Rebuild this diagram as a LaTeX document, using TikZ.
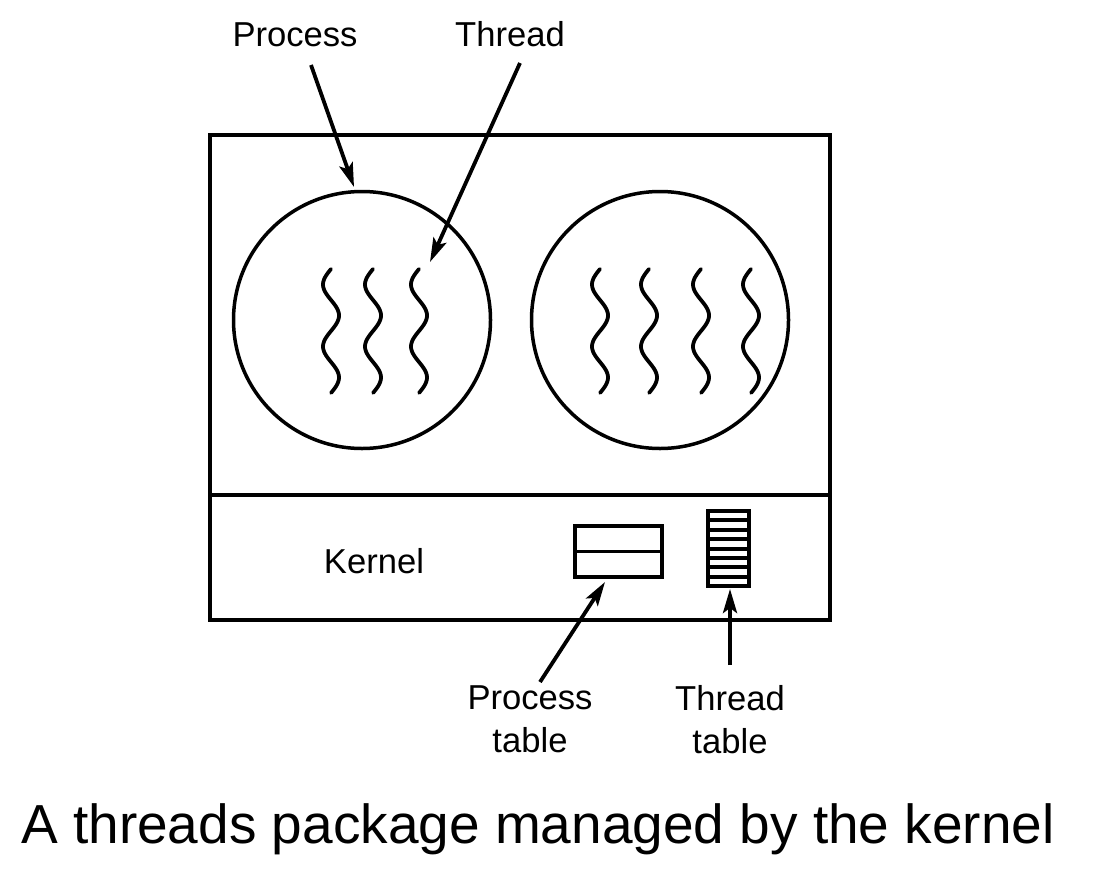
\documentclass[tikz,border=0pt]{standalone}
\usepackage{fontspec}
\setmainfont{Liberation Sans}
\usetikzlibrary{arrows.meta}
\begin{document}
\begin{tikzpicture}[x=1pt,y=-1pt,
  line width=3.5pt,
  lbl/.style={font=\fontsize{34.6}{43}\selectfont, inner sep=0pt, align=center},
  arr/.style={line width=3.8pt, -{Stealth[length=24pt,width=14pt,inset=5pt]}},
  wave/.style={line width=3.8pt, line cap=round},
  box/.style={draw, line width=3.5pt, inner sep=0pt}]
\useasboundingbox (0,0) rectangle (1107,875);
% outer box and kernel divider
\node[box, minimum width=620pt, minimum height=485pt] (sys) at (520,377.5) {};
\coordinate (dl) at (210,495);
\coordinate (dr) at (830,495);
\draw (dl) -- (dr);
% processes
\node[circle, draw, minimum size=257pt, inner sep=0pt] (p1) at (362,320) {};
\node[circle, draw, minimum size=257pt, inner sep=0pt] (p2) at (660,320) {};
% threads
\foreach \cx in {331,373,419,600,649,701,751}
  \draw[wave] plot[domain=0:1,samples=70,smooth] ({\cx-8*sin(720*\x)},{269+124*\x});
% tables
\node[box, minimum width=87pt, minimum height=51pt] (ptab) at (618.5,551.5) {};
\draw (ptab.west) -- (ptab.east);
\node[box, line width=4.2pt, minimum width=41pt, minimum height=75pt] (ttab) at (728.5,548.5) {};
\foreach \k in {1,...,7}
  \draw[line width=4pt] (708,{511+\k*75/8}) -- (749,{511+\k*75/8});
% labels
\node[lbl, anchor=base] (lproc) at (295,47) {Process};
\node[lbl, anchor=base] (lthr) at (510,47) {Thread};
\node[lbl, anchor=base] (lker) at (374,573) {Kernel};
\node[lbl, anchor=north] (lptab) at (530,684) {Process\\table};
\node[lbl, anchor=north] (lttab) at (730,684) {Thread\\table};
\node[font=\fontsize{55}{66}\selectfont, inner sep=0pt, anchor=base] (cap) at (538,843) {A threads package managed by the kernel};
% arrows
\coordinate (a1s) at (311,65);
\coordinate (a1e) at (354,187);
\coordinate (a2s) at (520,63);
\coordinate (a2e) at (430,262);
\coordinate (a3s) at (540,682);
\coordinate (a3e) at (605,582);
\coordinate (a4s) at (730,665);
\coordinate (a4e) at (730,589);
\draw[arr] (a1s) -- (a1e);
\draw[arr] (a2s) -- (a2e);
\draw[arr] (a3s) -- (a3e);
\draw[arr] (a4s) -- (a4e);
\end{tikzpicture}
\end{document}
